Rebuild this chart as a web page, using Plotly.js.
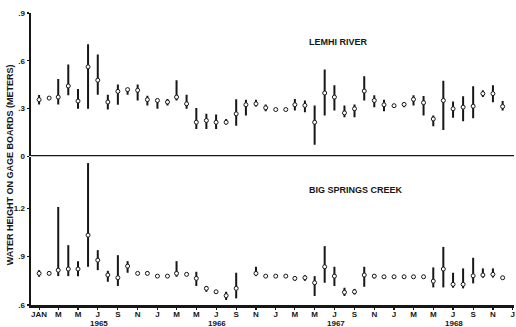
<!DOCTYPE html>
<html>
<head>
<meta charset="utf-8">
<script src="https://cdn.plot.ly/plotly-3.0.1.min.js"></script>
<style>html,body{margin:0;padding:0;background:#fff;}#chart{width:516px;height:327px;}</style>
</head>
<body>
<div id="chart"></div>
<script>
// Months (first of each month), Jan 1965 - Dec 1968
const months = [
 '1965-01-01','1965-02-01','1965-03-01','1965-04-01','1965-05-01','1965-06-01','1965-07-01','1965-08-01','1965-09-01','1965-10-01','1965-11-01','1965-12-01',
 '1966-01-01','1966-02-01','1966-03-01','1966-04-01','1966-05-01','1966-06-01','1966-07-01','1966-08-01','1966-09-01','1966-10-01','1966-11-01','1966-12-01',
 '1967-01-01','1967-02-01','1967-03-01','1967-04-01','1967-05-01','1967-06-01','1967-07-01','1967-08-01','1967-09-01','1967-10-01','1967-11-01','1967-12-01',
 '1968-01-01','1968-02-01','1968-03-01','1968-04-01','1968-05-01','1968-06-01','1968-07-01','1968-08-01','1968-09-01','1968-10-01','1968-11-01','1968-12-01'
];

// Lemhi River (meters): mean, low, high
const lemhiMean = [0.356,0.366,0.372,0.442,0.347,0.562,0.478,0.341,0.408,0.419,0.415,0.356,
                   0.351,0.341,0.372,0.330,0.214,0.225,0.214,0.214,0.267,0.324,0.330,0.305,
                   0.294,0.294,0.324,0.320,0.214,0.398,0.372,0.273,0.299,0.410,0.351,0.324,
                   0.318,0.326,0.358,0.337,0.235,0.351,0.299,0.309,0.315,0.394,0.394,0.313];
const lemhiLow  = [0.325,0.360,0.326,0.383,0.299,0.299,0.387,0.294,0.324,0.387,0.351,0.320,
                   0.299,0.320,0.351,0.299,0.172,0.172,0.172,0.200,0.193,0.256,0.313,0.284,
                   0.290,0.290,0.288,0.277,0.073,0.256,0.288,0.246,0.246,0.351,0.309,0.284,
                   0.310,0.309,0.320,0.256,0.189,0.166,0.242,0.220,0.239,0.372,0.340,0.288];
const lemhiHigh = [0.385,0.370,0.486,0.577,0.423,0.704,0.640,0.387,0.451,0.429,0.451,0.380,
                   0.362,0.360,0.478,0.387,0.303,0.267,0.263,0.235,0.358,0.356,0.356,0.326,
                   0.300,0.300,0.360,0.351,0.320,0.546,0.446,0.320,0.326,0.503,0.383,0.356,
                   0.325,0.340,0.383,0.379,0.256,0.474,0.345,0.377,0.440,0.415,0.446,0.347];

// Big Springs Creek (meters): mean, low, high (Oct 1966 missing)
const bigMean = [0.796,0.796,0.816,0.823,0.823,1.033,0.878,0.786,0.769,0.841,0.796,0.796,
                 0.779,0.779,0.796,0.790,0.765,0.703,0.682,0.658,0.703,null,0.796,0.779,
                 0.779,0.779,0.765,0.769,0.738,0.837,0.779,0.679,0.682,0.786,0.779,0.775,
                 0.775,0.775,0.775,0.775,0.748,0.823,0.728,0.728,0.781,0.786,0.790,0.769];
const bigLow  = [0.775,0.785,0.779,0.779,0.779,0.837,0.816,0.744,0.718,0.800,0.790,0.785,
                 0.775,0.775,0.775,0.785,0.718,0.682,0.670,0.631,0.641,null,0.779,0.775,
                 0.775,0.775,0.750,0.750,0.656,0.738,0.718,0.656,0.665,0.713,0.765,0.770,
                 0.770,0.770,0.770,0.770,0.709,0.709,0.707,0.703,0.734,0.769,0.770,0.765];
const bigHigh = [0.816,0.810,1.208,0.971,0.872,1.480,0.940,0.812,0.909,0.872,0.800,0.810,
                 0.785,0.785,0.872,0.800,0.806,0.718,0.690,0.682,0.800,null,0.837,0.785,
                 0.785,0.785,0.780,0.785,0.779,0.965,0.837,0.707,0.700,0.837,0.790,0.780,
                 0.780,0.780,0.780,0.780,0.833,0.960,0.800,0.827,0.893,0.827,0.827,0.775];

const tickDates = ['1965-01-01','1965-03-01','1965-05-01','1965-07-01','1965-09-01','1965-11-01',
                   '1966-01-01','1966-03-01','1966-05-01','1966-07-01','1966-09-01','1966-11-01',
                   '1967-01-01','1967-03-01','1967-05-01','1967-07-01','1967-09-01','1967-11-01',
                   '1968-01-01','1968-03-01','1968-05-01','1968-07-01','1968-09-01','1968-11-01','1969-01-01'];
const tickLabels = ['JAN','M','M','J','S','N','J','M','M','J','S','N','J','M','M','J','S','N','J','M','M','J','S','N','J'];
const yearLabels = ['1965','1966','1967','1968'];
const yearPos = ['1965-07-05','1966-07-05','1967-07-05','1968-07-05'];

const ink = '#161616';
const fam = 'Liberation Sans, Arial, sans-serif';
const tf = {family: fam, size: 8, color: ink, weight: 'bold'};
const lf = {family: fam, size: 9, color: ink, weight: 'bold'};

function errs(mean, lo, hi) {
  return {
    type: 'data', symmetric: false,
    array: mean.map((m, i) => m == null ? null : hi[i] - m),
    arrayminus: mean.map((m, i) => m == null ? null : m - lo[i]),
    color: ink, thickness: 2, width: 0
  };
}

const mk = {symbol: 'circle', size: 4, color: '#fff', line: {color: ink, width: 1}};

const traces = [
  {x: months, y: lemhiMean, type: 'scatter', mode: 'markers', xaxis: 'x', yaxis: 'y2',
   marker: mk, error_y: errs(lemhiMean, lemhiLow, lemhiHigh), hoverinfo: 'skip'},
  {x: months, y: bigMean, type: 'scatter', mode: 'markers', xaxis: 'x', yaxis: 'y',
   marker: mk, error_y: errs(bigMean, bigLow, bigHigh), hoverinfo: 'skip'}
];

const axCommon = {showgrid: false, zeroline: false, showline: true, linecolor: ink, linewidth: 2.5,
                  ticks: 'outside', ticklen: 2, tickwidth: 1.2, tickcolor: ink, tickfont: tf, fixedrange: true};

const layout = {
  width: 516, height: 327,
  margin: {l: 31, r: 2, t: 13, b: 22, pad: 0},
  paper_bgcolor: '#fff', plot_bgcolor: '#fff',
  showlegend: false,
  xaxis: Object.assign({}, axCommon, {type: 'date', range: ['1964-12-07', '1969-01-05'],
         tickmode: 'array', tickvals: tickDates, ticktext: tickLabels, anchor: 'y', ticklen: 2,
         ticklabelstandoff: -2}),
  yaxis: Object.assign({}, axCommon, {domain: [0, 0.507], range: [0.6, 1.518],
         tickmode: 'array', tickvals: [0.6, 0.9, 1.2], ticktext: ['.6', '.9', '1.2'], anchor: 'x'}),
  yaxis2: Object.assign({}, axCommon, {domain: [0.509, 1], range: [0, 0.9],
         tickmode: 'array', tickvals: [0, 0.3, 0.6, 0.9], ticktext: ['0', '.3', '.6', '.9'], anchor: 'x'}),
  shapes: [
    {type: 'line', xref: 'paper', yref: 'y2', x0: 0, x1: 1, y0: 0, y1: 0, line: {color: ink, width: 2.5}}
  ],
  annotations: [
    {text: 'WATER HEIGHT ON GAGE BOARDS (METERS)', xref: 'paper', yref: 'paper', x: -0.043, y: 0.479,
     textangle: -90, showarrow: false, xanchor: 'center', yanchor: 'middle', font: lf},
    {text: 'LEMHI RIVER', xref: 'x', yref: 'paper', x: '1967-07-15', y: 0.925, showarrow: false, font: lf},
    {text: 'BIG SPRINGS CREEK', xref: 'x', yref: 'paper', x: '1967-09-05', y: 0.394, showarrow: false, font: lf}
  ].concat(yearLabels.map((t, i) => ({text: t, xref: 'x', yref: 'paper', x: yearPos[i], y: -0.062,
     showarrow: false, xanchor: 'center', yanchor: 'middle', font: tf, borderpad: 0})))
};

Plotly.newPlot('chart', traces, layout, {displayModeBar: false, staticPlot: true});
</script>
</body>
</html>
